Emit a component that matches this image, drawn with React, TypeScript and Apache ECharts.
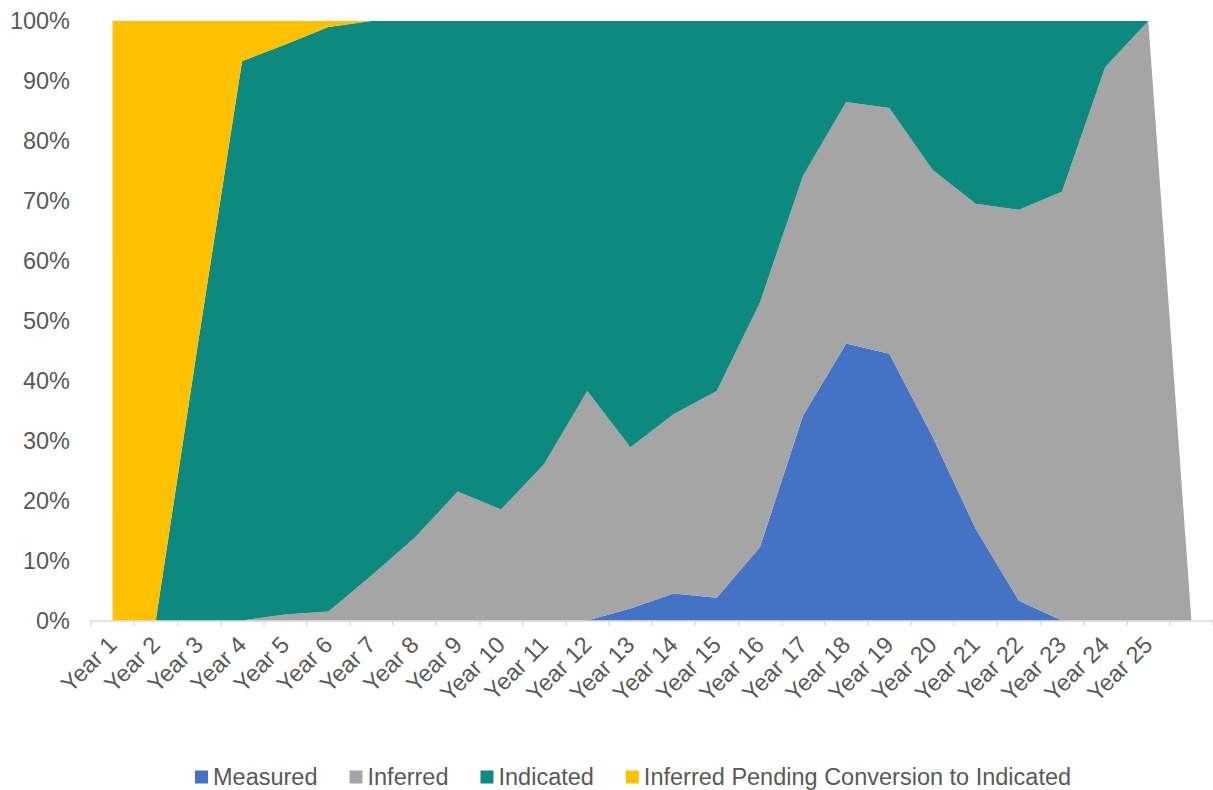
import React, { useEffect, useRef } from "react";
import * as echarts from "echarts";

const categories = [
  "Year 1", "Year 2", "Year 3", "Year 4", "Year 5", "Year 6", "Year 7", "Year 8", "Year 9",
  "Year 10", "Year 11", "Year 12", "Year 13", "Year 14", "Year 15", "Year 16", "Year 17",
  "Year 18", "Year 19", "Year 20", "Year 21", "Year 22", "Year 23", "Year 24", "Year 25", "",
];

const measured = [0, 0, 0, 0, 0, 0, 0, 0, 0, 0, 0, 0, 2.0, 4.5, 3.8, 12.2, 34.2, 46.2, 44.5, 30.7, 15.3, 3.3, 0, 0, 0, 0];
const inferred = [0, 0, 0, 0, 1.0, 1.5, 7.5, 13.8, 21.5, 18.5, 26.1, 38.3, 26.9, 29.9, 34.5, 40.8, 40.0, 40.3, 41.0, 44.5, 54.2, 65.2, 71.5, 92.3, 100, 0];
const indicated = [0, 0, 47.2, 93.3, 95.1, 97.5, 92.5, 86.2, 78.5, 81.5, 73.9, 61.7, 71.1, 65.6, 61.7, 47.0, 25.8, 13.5, 14.5, 24.8, 30.5, 31.5, 28.5, 7.7, 0, 0];
const pending = [100, 100, 52.8, 6.7, 3.9, 1.0, 0, 0, 0, 0, 0, 0, 0, 0, 0, 0, 0, 0, 0, 0, 0, 0, 0, 0, 0, 0];

const seriesNames = ["Measured", "Inferred", "Indicated", "Inferred Pending Conversion to Indicated"];
const seriesColors = ["#4472C4", "#A5A5A5", "#0E897F", "#FFC000"];
const seriesData = [measured, inferred, indicated, pending];

const FONT = "'Liberation Sans', Arial, sans-serif";
const TEXT = "#595959";
const FS = 23.5;

export default function App() {
  const ref = useRef<HTMLDivElement>(null);
  useEffect(() => {
    if (!ref.current) return;
    const chart = echarts.init(ref.current, undefined, { renderer: "svg" });
    chart.setOption({
      animation: false,
      textStyle: { fontFamily: FONT },
      grid: { left: 91, top: 21, width: 1127, height: 599.5, containLabel: false },
      legend: {
        top: 760,
        left: 190,
        icon: "rect",
        itemWidth: 13,
        itemHeight: 13,
        itemGap: 32,
        selectedMode: false,
        textStyle: { fontSize: FS, color: TEXT, fontFamily: FONT },
        data: seriesNames,
      },
      xAxis: {
        type: "category",
        data: categories,
        boundaryGap: true,
        axisLine: { show: true, lineStyle: { color: "#D9D9D9", width: 1.5 } },
        axisTick: { show: true, length: 5, lineStyle: { color: "#D9D9D9", width: 1.5 } },
        axisLabel: {
          interval: 0,
          rotate: 45,
          margin: 20,
          padding: [18, 0, 0, 0],
          fontSize: FS,
          color: TEXT,
          fontFamily: FONT,
        },
        splitLine: { show: false },
      },
      yAxis: {
        type: "value",
        min: 0,
        max: 100,
        interval: 10,
        axisLine: { show: false },
        axisTick: { show: false },
        splitLine: { show: false },
        axisLabel: { formatter: "{value}%", fontSize: FS, color: TEXT, margin: 21, fontFamily: FONT },
      },
      series: seriesNames.map((name, i) => ({
        name,
        type: "line",
        stack: "total",
        data: seriesData[i],
        showSymbol: false,
        symbol: "none",
        lineStyle: { width: 0 },
        areaStyle: { color: seriesColors[i], opacity: 1 },
        itemStyle: { color: seriesColors[i] },
        emphasis: { disabled: true },
      })),
    });
    return () => chart.dispose();
  }, []);
  return (
    <div
      ref={ref}
      style={{ position: "fixed", left: 0, top: 0, width: 1213, height: 790, background: "#fff" }}
    />
  );
}
